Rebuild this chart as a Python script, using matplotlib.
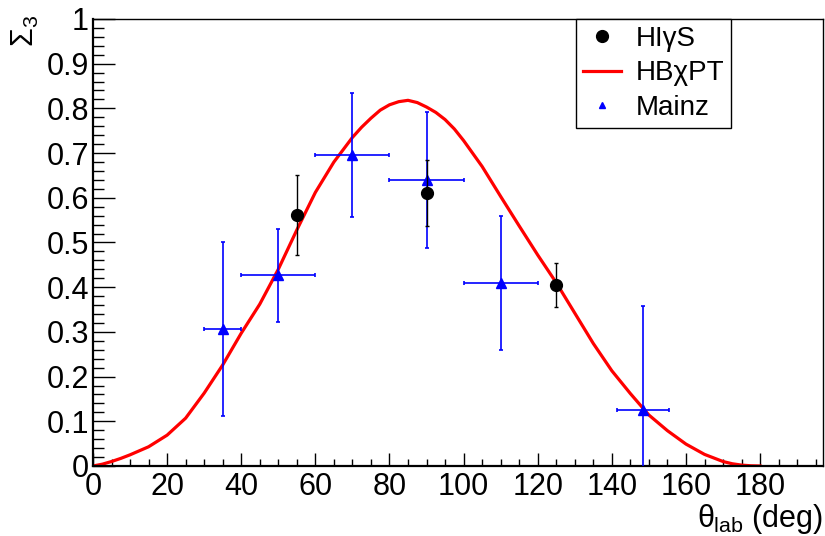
import matplotlib
matplotlib.use("Agg")
from matplotlib import pyplot as plt
from matplotlib.lines import Line2D
from matplotlib.ticker import MultipleLocator
import numpy as np

plt.rcParams['font.family'] = ['Liberation Sans', 'DejaVu Sans']
plt.rcParams['mathtext.fontset'] = 'custom'
plt.rcParams['mathtext.rm'] = 'Liberation Sans'
plt.rcParams['mathtext.it'] = 'Liberation Sans'

# HIgS data (black circles)
higs_theta = [55, 90, 125]
higs_sigma = [0.562, 0.611, 0.405]
higs_err = [0.090, 0.074, 0.049]

# Mainz data (blue triangles)
mainz_theta = [35, 50, 70, 90, 110, 148.5]
mainz_sigma = [0.306, 0.427, 0.696, 0.640, 0.409, 0.125]
mainz_yerr = [0.195, 0.104, 0.139, 0.152, 0.150, 0.232]
mainz_xerr = [5, 10, 10, 10, 10, 7]

# HBchiPT curve
curve_theta = [0, 2.5, 5, 7.5, 10, 15, 20, 25, 30, 35, 40, 45, 50, 55, 60, 65, 70, 72.5,
               75, 77.5, 80, 82.5, 85, 87.5, 90, 92.5, 95, 97.5, 100, 105, 110, 115,
               120, 125, 130, 135, 140, 145, 150, 155, 160, 165, 170, 172.5, 175,
               177.5, 180]
curve_sigma = [0.0, 0.004, 0.010, 0.017, 0.025, 0.043, 0.069, 0.107, 0.163, 0.226,
               0.297, 0.362, 0.440, 0.528, 0.612, 0.680, 0.735, 0.758, 0.778, 0.796,
               0.808, 0.815, 0.818, 0.813, 0.803, 0.791, 0.775, 0.754, 0.728, 0.670,
               0.603, 0.537, 0.472, 0.410, 0.342, 0.274, 0.213, 0.162, 0.114, 0.079,
               0.049, 0.026, 0.010, 0.005, 0.002, 0.0005, 0.0]

fig = plt.figure(figsize=(8.25, 5.36), dpi=100)
ax = fig.add_axes([0.1127, 0.1306, 0.885, 0.834])

ax.plot(curve_theta, curve_sigma, color='#ff0000', lw=2.3, zorder=2,
        solid_joinstyle='round')

ax.errorbar(mainz_theta, mainz_sigma, yerr=mainz_yerr, xerr=mainz_xerr, fmt='^',
            color='#0000ff', ms=6.5, elinewidth=1.2, capsize=1.5, capthick=1.2, zorder=3)
ax.errorbar(higs_theta, higs_sigma, yerr=higs_err, fmt='o', color='black',
            ms=8.5, elinewidth=1.0, capsize=1.5, capthick=1.0, zorder=4)

ax.set_xlim(0, 197)
ax.set_ylim(0, 1)
ax.xaxis.set_major_locator(MultipleLocator(20))
ax.xaxis.set_minor_locator(MultipleLocator(5))
ax.yaxis.set_minor_locator(MultipleLocator(0.02))
ax.set_yticks(np.arange(0, 1.01, 0.1))
ax.set_yticklabels(['0', '0.1', '0.2', '0.3', '0.4', '0.5', '0.6', '0.7', '0.8', '0.9', '1'])

ax.tick_params(axis='x', which='major', direction='in', length=9.5, width=1.0,
               labelsize=22, pad=4)
ax.tick_params(axis='x', which='minor', direction='in', length=5, width=1.0)
ax.tick_params(axis='y', which='major', direction='in', length=16, width=1.0,
               labelsize=22, pad=3)
ax.tick_params(axis='y', which='minor', direction='in', length=8, width=1.0)

for s in ['bottom', 'left']:
    ax.spines[s].set_linewidth(1.6)
for s in ['top', 'right']:
    ax.spines[s].set_linewidth(1.0)

ax.set_xlabel(r'$\theta_{\rm lab}$ (deg)', fontsize=22, loc='right', labelpad=0)
fig.text(25 / 825, 1 - 15 / 536, r'$\Sigma_3$', fontsize=22, rotation=90,
         ha='center', va='top')

handles = [
    Line2D([], [], ls='none', marker='o', color='black', ms=8.5),
    Line2D([], [], color='#ff0000', lw=2.3),
    Line2D([], [], ls='none', marker='^', color='#0000ff', ms=5),
]
leg = ax.legend(handles, ['HIγS', 'HBχPT', 'Mainz'], loc='upper left',
                bbox_to_anchor=(0.661, 1.0), fontsize=20, frameon=True,
                fancybox=False, framealpha=1, edgecolor='black', borderpad=0.25,
                labelspacing=0.3, handlelength=1.4, handletextpad=0.5, borderaxespad=0)
leg.get_frame().set_linewidth(1.0)

fig.savefig('out.png', dpi=100)
